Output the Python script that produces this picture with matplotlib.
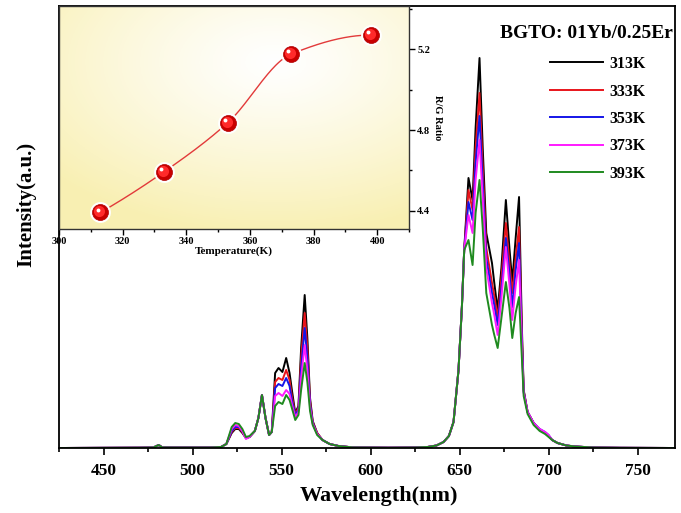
import numpy as np
import matplotlib
matplotlib.use("Agg")
import matplotlib.pyplot as plt
import matplotlib.transforms as mtransforms
from matplotlib.ticker import MultipleLocator

plt.rcParams['font.family'] = ['Liberation Serif', 'DejaVu Serif']
plt.rcParams['font.weight'] = 'bold'

# ── spectra ────────────────────────────────────────────────────
wavelength = [425, 470, 478, 481, 483, 490, 510, 516, 519, 522, 524, 526, 528, 530, 532,
              535, 537, 539, 541, 543, 544.5, 546.4, 548.3, 550.5, 552.6, 554.5, 555.8,
              557.7, 559.5, 561, 563, 564.5, 566, 567.5, 570, 573, 577, 582, 590, 610,
              625, 632, 637, 641, 644, 646.6, 649.4, 651.3, 652.6, 655, 657.3, 659, 661.2,
              663, 665, 668.2, 669.5, 671.4, 673.5, 676, 678, 679.6, 681.5, 683.4, 685,
              686, 688.2, 691.6, 695, 698, 700, 702, 705, 710, 715, 725, 740, 771]

int_313 = [0, 0.3, 0.5, 3, 0.6, 0.5, 0.5, 1, 4, 15, 19, 19, 15, 10, 11,
           17, 30, 53, 30, 13, 16, 75, 80, 76, 90, 75, 58,
           35, 42, 100, 153, 110, 50, 27, 15, 8, 4, 2, 0.6, 0.3,
           0.5, 1, 2.5, 6, 12, 26, 78, 141, 198, 270, 248, 320, 390,
           300, 215, 185, 165, 138, 180, 248, 200, 166, 210, 251, 120,
           58, 36, 25, 18, 15, 12, 8, 5, 2.5, 1.5, 0.5, 0.2, 0]
int_333 = [0, 0.3, 0.5, 3, 0.6, 0.5, 0.5, 1, 4, 16, 20, 20, 16, 10, 11,
           17, 30, 53, 30, 13, 16, 66, 70, 68, 78, 68, 52,
           34, 40, 90, 135, 100, 47, 26, 15, 8, 4, 2, 0.6, 0.3,
           0.5, 1, 2.5, 6, 12, 26, 78, 141, 198, 258, 238, 300, 355,
           280, 200, 165, 152, 130, 170, 225, 185, 155, 190, 221, 112,
           57, 36, 25, 18, 15, 12, 8, 5, 2.5, 1.5, 0.5, 0.2, 0]
int_353 = [0, 0.3, 0.5, 3, 0.6, 0.5, 0.5, 1, 4, 17, 21, 21, 17, 10, 11,
           17, 30, 53, 30, 13, 16, 60, 64, 62, 70, 62, 48,
           33, 38, 80, 120, 90, 44, 25, 14, 8, 4, 2, 0.6, 0.3,
           0.5, 1, 2.5, 6, 12, 26, 78, 141, 198, 246, 228, 285, 332,
           265, 190, 155, 143, 123, 160, 210, 175, 141, 178, 205, 106,
           56, 36, 25, 19, 16, 13, 8, 5, 2.5, 1.5, 0.5, 0.2, 0]
int_373 = [0, 0.3, 0.5, 3, 0.6, 0.5, 0.5, 1, 4, 19, 23, 22, 17, 9, 11,
           17, 30, 53, 30, 13, 16, 52, 55, 52, 58, 54, 44,
           31, 36, 70, 103, 78, 41, 24, 14, 8, 4, 2, 0.6, 0.3,
           0.5, 1, 2.5, 6, 12, 26, 78, 141, 198, 233, 215, 268, 308,
           250, 180, 145, 133, 113, 150, 201, 163, 128, 162, 188, 100,
           55, 36, 25, 19, 16, 13, 8, 5, 2.5, 1.5, 0.5, 0.2, 0]
int_393 = [0, 0.3, 0.5, 3, 0.6, 0.5, 0.5, 1, 4, 21, 25, 24, 19, 11, 12,
           17, 30, 53, 30, 13, 16, 42, 46, 44, 53, 48, 40,
           28, 33, 58, 85, 66, 37, 23, 13, 8, 4, 2, 0.6, 0.3,
           0.5, 1, 2.5, 6, 12, 26, 78, 141, 198, 208, 183, 235, 268,
           220, 155, 123, 113, 100, 130, 166, 140, 110, 135, 151, 90,
           52, 34, 23, 17, 14, 11, 8, 5, 2.5, 1.5, 0.5, 0.2, 0]

series_labels = ['313K', '333K', '353K', '373K', '393K']
series_colors = ['black', '#e8141b', '#1515e8', '#ff1aff', '#1f8a1f']

# ── inset: R/G ratio vs temperature ────────────────────────────
temperature = [313, 333, 353, 373, 398]
rg_ratio = [4.392, 4.593, 4.836, 5.177, 5.271]


def pchip(x, y, xs):
    # monotone cubic for the smooth guide line through the points
    x = np.asarray(x, float)
    y = np.asarray(y, float)
    h = np.diff(x)
    d = np.diff(y) / h
    m = np.zeros_like(y)
    for k in range(1, len(x) - 1):
        if d[k - 1] * d[k] > 0:
            w1 = 2 * h[k] + h[k - 1]
            w2 = h[k] + 2 * h[k - 1]
            m[k] = (w1 + w2) / (w1 / d[k - 1] + w2 / d[k])
    for k, hh, dd in ((0, h, d), (-1, h[::-1], d[::-1])):
        e = ((2 * hh[0] + hh[1]) * dd[0] - hh[0] * dd[1]) / (hh[0] + hh[1])
        if np.sign(e) != np.sign(dd[0]):
            e = 0
        m[k] = e
    idx = np.clip(np.searchsorted(x, xs) - 1, 0, len(x) - 2)
    t = (xs - x[idx]) / h[idx]
    h00 = 2 * t**3 - 3 * t**2 + 1
    h10 = t**3 - 2 * t**2 + t
    h01 = -2 * t**3 + 3 * t**2
    h11 = t**3 - t**2
    return h00 * y[idx] + h10 * h[idx] * m[idx] + h01 * y[idx + 1] + h11 * h[idx] * m[idx + 1]


W, H = 681, 513
fig = plt.figure(figsize=(W / 100, H / 100), dpi=100)

# main axes
ax = fig.add_axes([59 / W, 1 - 448 / H, (675 - 59) / W, (448 - 6) / H])
for y, lab, col in zip([int_313, int_333, int_353, int_373, int_393], series_labels, series_colors):
    ax.plot(wavelength, y, color=col, lw=1.4, label=lab)
ax.set_xlim(425, 771)
ax.set_ylim(0, 442)
ax.set_yticks([])
ax.xaxis.set_major_locator(MultipleLocator(50))
ax.xaxis.set_minor_locator(MultipleLocator(25))
ax.tick_params(axis='x', which='major', direction='out', length=5, width=1.2, labelsize=12.5, pad=6)
ax.tick_params(axis='x', which='minor', direction='out', length=3, width=1.2)
for s in ax.spines.values():
    s.set_linewidth(1.3)
fig.text(379 / W, 1 - 496 / H, 'Wavelength(nm)', fontsize=16, fontweight='bold', ha='center', va='center')
fig.text(26 / W, 1 - 204 / H, 'Intensity(a.u.)', rotation=90, fontsize=15, fontweight='bold',
         ha='center', va='center')

leg = ax.legend(loc='upper left', bbox_to_anchor=(550 / W, 1 - 56 / H), bbox_transform=fig.transFigure,
                frameon=False, fontsize=11.5, handlelength=3.3, handletextpad=0.4, labelspacing=0.72,
                borderpad=0, borderaxespad=0)
for t in leg.get_texts():
    t.set_fontweight('bold')
fig.text(673 / W, 1 - 33 / H, 'BGTO: 01Yb/0.25Er', fontsize=14, fontweight='bold', ha='right', va='center')

# inset
ins = fig.add_axes([59 / W, 1 - 229 / H, (409 - 59) / W, (229 - 6) / H])
gx, gy = np.meshgrid(np.linspace(0, 1, 200), np.linspace(0, 1, 150))
dist = np.sqrt(((gx - 0.62) * 1.0) ** 2 + ((gy - 0.75) * 1.1) ** 2)
tt = np.clip(dist / 0.85, 0, 1) ** 1.2
yellow = np.array([0.975, 0.94, 0.70])
img = (1 - tt[..., None]) * np.ones(3) + tt[..., None] * yellow
ins.imshow(img, extent=[0, 1, 0, 1], origin='lower', aspect='auto', transform=ins.transAxes, zorder=0)

ins.set_xlim(300, 410)
ins.set_ylim(4.31, 5.415)
xs = np.linspace(temperature[0], temperature[-1], 200)
ins.plot(xs, pchip(temperature, rg_ratio, xs), color='#e23a3a', lw=1.0, zorder=2)
ins.plot(temperature, rg_ratio, 'o', ms=15, color='white', mec='none', zorder=3)
ins.plot(temperature, rg_ratio, 'o', ms=11.5, color='#c80000', mec='#b00000', mew=0.5, zorder=4)
off = mtransforms.ScaledTranslation(-0.8 / 72, 0.8 / 72, fig.dpi_scale_trans)
ins.plot(temperature, rg_ratio, 'o', ms=8, color='#ff2a2a', mec='none', zorder=5,
         transform=ins.transData + off)
off2 = mtransforms.ScaledTranslation(-2.0 / 72, 2.0 / 72, fig.dpi_scale_trans)
ins.plot(temperature, rg_ratio, 'o', ms=2.8, color='white', mec='none', zorder=6,
         transform=ins.transData + off2)

ins.yaxis.tick_right()
ins.yaxis.set_label_position('right')
ins.xaxis.set_major_locator(MultipleLocator(20))
ins.xaxis.set_minor_locator(MultipleLocator(10))
ins.yaxis.set_minor_locator(MultipleLocator(0.2))
ins.set_yticks([4.4, 4.8, 5.2])
ins.tick_params(axis='both', which='major', direction='out', length=4, width=1, labelsize=7.5, pad=2)
ins.tick_params(axis='both', which='minor', direction='out', length=2.5, width=1)
for lab in ins.get_xticklabels() + ins.get_yticklabels():
    lab.set_fontweight('bold')
for s in ins.spines.values():
    s.set_linewidth(1.0)
    s.set_color('#333333')
ins.set_xlabel('Temperature(K)', fontsize=8, fontweight='bold', labelpad=0)
ins.set_ylabel('R/G Ratio', fontsize=7.5, fontweight='bold', rotation=270, labelpad=8)

fig.savefig('out.png', dpi=100)
